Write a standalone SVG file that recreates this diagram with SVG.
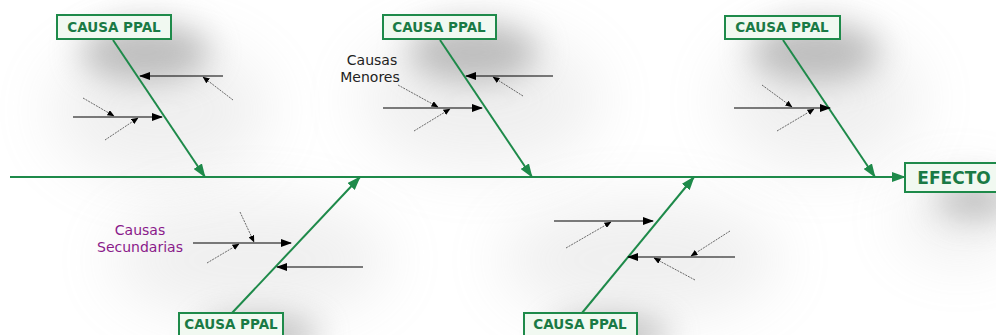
<svg xmlns="http://www.w3.org/2000/svg" width="996" height="335" viewBox="0 0 996 335">
<defs>
<filter id="blur" x="-100%" y="-150%" width="300%" height="400%"><feGaussianBlur stdDeviation="16"/></filter>
<filter id="blur2" x="-100%" y="-100%" width="300%" height="300%"><feGaussianBlur stdDeviation="30"/></filter>
<marker id="ga" viewBox="0 0 14 10" refX="13" refY="5" markerWidth="14" markerHeight="10" markerUnits="userSpaceOnUse" orient="auto"><path d="M0,0 L14,5 L0,10 Z" fill="#1e8a4a"/></marker>
<marker id="ba" viewBox="0 0 11 8" refX="10" refY="4" markerWidth="11" markerHeight="8" markerUnits="userSpaceOnUse" orient="auto"><path d="M0,0 L11,4 L0,8 Z" fill="#000"/></marker>
<marker id="sa" viewBox="0 0 7 6" refX="6.5" refY="3" markerWidth="7" markerHeight="6" markerUnits="userSpaceOnUse" orient="auto"><path d="M0,0 L7,3 L0,6 Z" fill="#000"/></marker>
</defs>
<style>
.box{fill:#f1f9f1;stroke:#1e8a4a;stroke-width:2}
.lbl{font-family:"DejaVu Sans",Verdana,sans-serif;font-weight:bold;font-size:13.5px;fill:#1a7a45;text-anchor:middle}
.big{font-size:17px}
.bone{stroke:#1e8a4a;stroke-width:2;fill:none;marker-end:url(#ga)}
.minor{stroke:#000;stroke-width:1.2;fill:none;marker-end:url(#ba)}
.tiny{stroke:#444;stroke-width:0.8;stroke-dasharray:2 1;fill:none;marker-end:url(#sa)}
.note{font-family:"DejaVu Sans",Verdana,sans-serif;font-size:14px;text-anchor:middle}
.shadow{fill:#888;opacity:0.5;filter:url(#blur)}
.soft{fill:#aaa;opacity:0.18;filter:url(#blur2)}
</style>
<rect width="996" height="335" fill="#fff"/>
<g id="background">
<ellipse class="soft" cx="160" cy="110" rx="110" ry="70"/>
<ellipse class="soft" cx="480" cy="100" rx="120" ry="70"/>
<ellipse class="soft" cx="820" cy="100" rx="100" ry="70"/>
<ellipse class="soft" cx="250" cy="260" rx="140" ry="60"/>
<ellipse class="soft" cx="640" cy="260" rx="140" ry="60"/>
<ellipse class="soft" cx="960" cy="220" rx="60" ry="40"/>
<ellipse class="shadow" cx="145" cy="52" rx="65" ry="30"/>
<ellipse class="shadow" cx="473" cy="52" rx="65" ry="30"/>
<ellipse class="shadow" cx="815" cy="52" rx="65" ry="30"/>
<ellipse class="shadow" cx="260" cy="335" rx="60" ry="20"/>
<ellipse class="shadow" cx="610" cy="335" rx="60" ry="20"/>
<ellipse class="shadow" cx="975" cy="200" rx="40" ry="18"/>
</g>
<g id="connectors">
<line class="bone" x1="10" y1="177" x2="905" y2="177"/>
<line class="bone" x1="113" y1="40" x2="205" y2="177"/>
<line class="bone" x1="440" y1="40" x2="532" y2="177"/>
<line class="bone" x1="783" y1="40" x2="875" y2="177"/>
<line class="bone" x1="232" y1="313" x2="360" y2="177"/>
<line class="bone" x1="582" y1="313" x2="694" y2="177"/>
<line class="minor" x1="223" y1="76" x2="140" y2="76"/>
<line class="minor" x1="73" y1="117" x2="162" y2="117"/>
<line class="minor" x1="553" y1="76" x2="466" y2="76"/>
<line class="minor" x1="383" y1="108" x2="482" y2="108"/>
<line class="minor" x1="734" y1="108" x2="830" y2="108"/>
<line class="minor" x1="193" y1="243" x2="291" y2="243"/>
<line class="minor" x1="363" y1="267" x2="277" y2="267"/>
<line class="minor" x1="554" y1="221" x2="653" y2="221"/>
<line class="minor" x1="735" y1="257" x2="628" y2="257"/>
<line class="tiny" x1="233" y1="100" x2="203" y2="77"/>
<line class="tiny" x1="83" y1="98" x2="114" y2="116"/>
<line class="tiny" x1="105" y1="140" x2="138" y2="118"/>
<line class="tiny" x1="523" y1="96" x2="493" y2="77"/>
<line class="tiny" x1="398" y1="85" x2="438" y2="107"/>
<line class="tiny" x1="414" y1="131" x2="450" y2="109"/>
<line class="tiny" x1="762" y1="85" x2="792" y2="107"/>
<line class="tiny" x1="777" y1="131" x2="814" y2="109"/>
<line class="tiny" x1="240" y1="212" x2="254" y2="242"/>
<line class="tiny" x1="207" y1="263" x2="239" y2="244"/>
<line class="tiny" x1="566" y1="248" x2="611" y2="222"/>
<line class="tiny" x1="730" y1="231" x2="691" y2="256"/>
<line class="tiny" x1="695" y1="280" x2="654" y2="258"/>
</g>
<g id="n1"><rect class="box" x="57" y="15" width="114" height="24"/><text class="lbl" x="114" y="32">CAUSA PPAL</text></g>
<g id="n2"><rect class="box" x="383" y="15" width="113" height="24"/><text class="lbl" x="439" y="32">CAUSA PPAL</text></g>
<g id="n3"><rect class="box" x="725" y="16" width="115" height="23"/><text class="lbl" x="782" y="32">CAUSA PPAL</text></g>
<g id="n4"><rect class="box" x="179" y="313" width="104" height="26"/><text class="lbl" x="231" y="329">CAUSA PPAL</text></g>
<g id="n5"><rect class="box" x="524" y="313" width="113" height="26"/><text class="lbl" x="580" y="329">CAUSA PPAL</text></g>
<g id="efecto"><rect class="box" x="905" y="163" width="95" height="29"/><text class="lbl big" x="954" y="184">EFECTO</text></g>
<g id="notes">
<text class="note" x="372" y="65" fill="#222">Causas</text>
<text class="note" x="370" y="82" fill="#222">Menores</text>
<text class="note" x="140" y="235" fill="#8a1a8a">Causas</text>
<text class="note" x="140" y="252" fill="#8a1a8a">Secundarias</text>
</g>
</svg>
